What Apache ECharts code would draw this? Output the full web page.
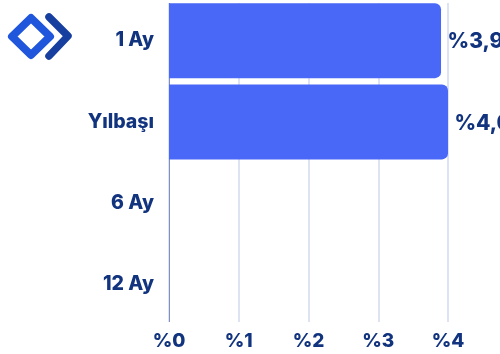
<!DOCTYPE html>
<html><head><meta charset="utf-8">
<style>html,body{margin:0;padding:0;background:#fff}#c{width:500px;height:354px}</style>
<script src="https://cdn.jsdelivr.net/npm/echarts@6/dist/echarts.min.js"></script></head>
<body><div id="c"></div>
<script>
const categories = ['1 Ay','Yılbaşı','6 Ay','12 Ay'];
const values = [3.9, 4.0, null, null];
const tickLabels = ['%0','%1','%2','%3','%4'];
const chart = echarts.init(document.getElementById('c'), null, {renderer:'canvas'});
const ink = '#12347f', font = 'Inter';
chart.setOption({
  animation:false,
  grid:{left:169,top:0,width:279,height:325,containLabel:false},
  xAxis:{type:'value',min:0,max:4,interval:1,
    axisLine:{show:false},axisTick:{show:false},
    splitLine:{show:true,lineStyle:{color:'#d3daf0',width:1.5}},
    axisLabel:{formatter:v=>tickLabels[v],color:ink,fontFamily:font,fontWeight:800,fontSize:19,margin:7}},
  yAxis:{type:'category',inverse:true,data:categories,
    axisLine:{show:true,lineStyle:{color:'#8090c0',width:1}},axisTick:{show:false},
    axisLabel:{color:ink,fontFamily:font,fontWeight:800,fontSize:19.5,margin:15}},
  series:[{type:'bar',data:values,barWidth:75,itemStyle:{color:'#4a68f8',borderRadius:[0,6,6,0]},
    label:{show:true,position:'right',distance:6.5,offset:[0,1.5],color:ink,fontFamily:font,fontWeight:800,fontSize:21,
      formatter:p=>'%'+p.value.toFixed(1).replace('.',',')}}],
  graphic:[
    {type:'rect',z:100,silent:true,shape:{x:160,y:0,width:300,height:3},style:{fill:'#fff'}},
    {type:'rect',z:100,silent:true,shape:{x:160,y:322,width:300,height:5},style:{fill:'#fff'}},
    {type:'polygon',z:101,shape:{points:[[31,18],[50,36.5],[31,55],[12,36.5]]},
      style:{fill:'none',stroke:'#1f56dc',lineWidth:8,lineJoin:'round'}},
    {type:'polyline',z:101,shape:{points:[[49,17],[68,36],[49,56]]},
      style:{fill:'none',stroke:'#173f9f',lineWidth:7.5,lineJoin:'round',lineCap:'round'}}
  ]
});
</script></body></html>
